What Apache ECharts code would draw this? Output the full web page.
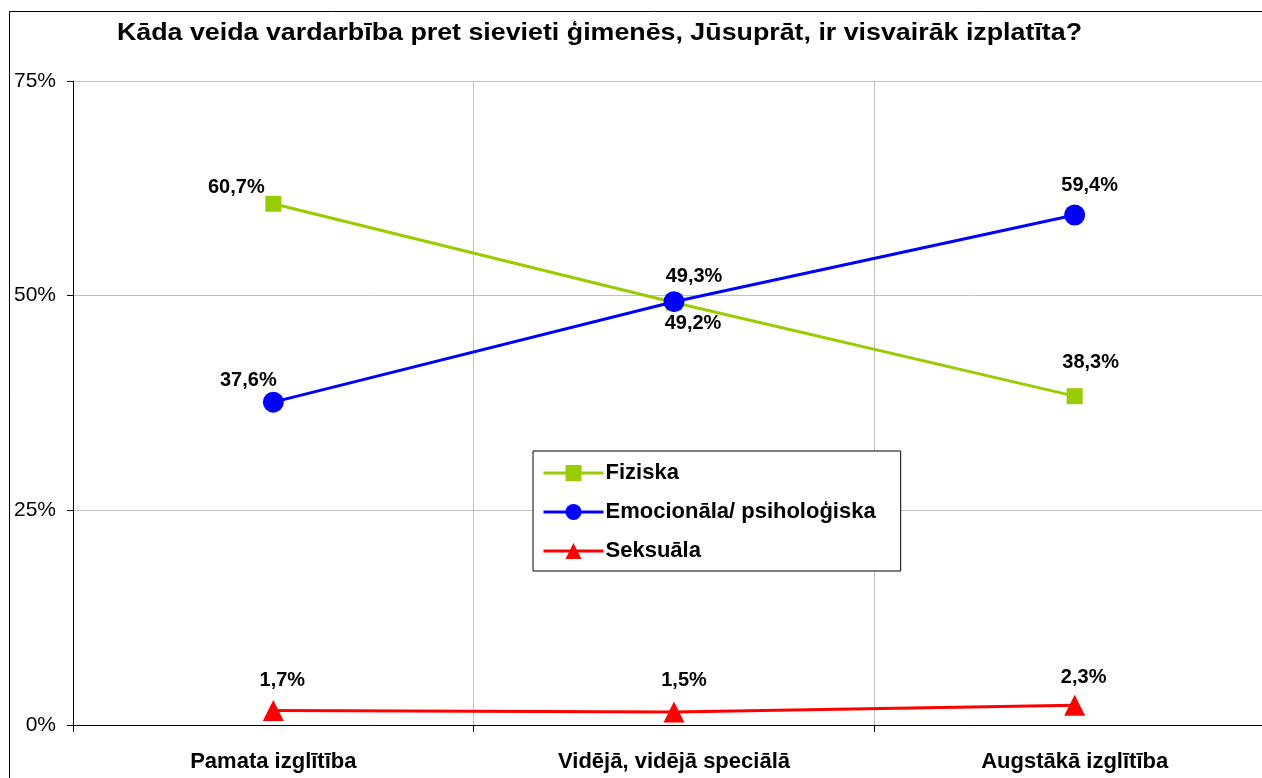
<!DOCTYPE html>
<html>
<head>
<meta charset="utf-8">
<script src="https://cdn.jsdelivr.net/npm/echarts@6/dist/echarts.min.js"></script>
<style>
  html, body { margin: 0; padding: 0; background: #fff; overflow: hidden; }
  #main { width: 1300px; height: 778px; }
</style>
</head>
<body>
<div id="main"></div>
<script>
var titleText = 'Kāda veida vardarbība pret sievieti ģimenēs, Jūsuprāt, ir visvairāk izplatīta?';
var categories = ['Pamata izglītība', 'Vidējā, vidējā speciālā', 'Augstākā izglītība'];
var fiziska = [60.7, 49.2, 38.3];
var emocionala = [37.6, 49.3, 59.4];
var seksuala = [1.7, 1.5, 2.3];
var yTicks = [0, 25, 50, 75];

// label offsets (px) from each point, as in the original
var offFiz = [[-37, -16], [19, 21], [16, -34]];
var offEmo = [[-25, -22], [20, -25], [15, -29]];
var offSek = [[9, -30], [10, -32], [9, -28]];

var FONT = '"Liberation Sans", Arial, sans-serif';

function fmt(v) { return v.toFixed(1).replace('.', ',') + '%'; }

function withLabels(values, offs) {
    return values.map(function (v, i) {
        return {
            value: v,
            label: { offset: offs[i] }
        };
    });
}

function makeSeries(name, values, offs, color, symbol, size) {
    return {
        name: name,
        type: 'line',
        data: withLabels(values, offs),
        symbol: symbol,
        symbolSize: size,
        lineStyle: { color: color, width: 3 },
        itemStyle: { color: color },
        label: {
            show: true,
            position: 'inside',
            color: '#000',
            fontFamily: FONT,
            fontWeight: 'bold',
            fontSize: 20,
            formatter: function (p) { return fmt(p.value); }
        },
        emphasis: { disabled: true },
        animation: false
    };
}

var myChart = echarts.init(document.getElementById('main'));
var option = {
    backgroundColor: '#fff',
    graphic: [{
        type: 'rect',
        shape: { x: 9.5, y: 11.5, width: 1400, height: 900 },
        style: { fill: 'none', stroke: '#000', lineWidth: 1 },
        z: -1
    }, {
        type: 'text',
        x: 117,
        y: 34,
        scaleX: 1.165,
        style: {
            text: titleText,
            fontFamily: FONT,
            fontSize: 23,
            fontWeight: 'bold',
            fill: '#000',
            verticalAlign: 'middle'
        }
    }],
    legend: {
        orient: 'vertical',
        left: 533,
        top: 451,
        padding: [11, 25, 9, 9],
        itemWidth: 60,
        itemHeight: 20,
        itemGap: 17,
        backgroundColor: '#fff',
        borderColor: '#000',
        borderWidth: 1,
        lineStyle: { width: 3 },
        textStyle: { fontFamily: FONT, fontSize: 22, fontWeight: 'bold', color: '#000', padding: [0, 0, 0, -3] },
        data: ['Fiziska', 'Emocionāla/ psiholoģiska', 'Seksuāla']
    },
    grid: { left: 73, top: 81, width: 1202, height: 644, containLabel: false },
    xAxis: {
        type: 'category',
        data: categories,
        boundaryGap: true,
        axisLine: { lineStyle: { color: '#000', width: 1 } },
        axisTick: { show: true, length: 7, lineStyle: { color: '#000' } },
        axisLabel: { fontFamily: FONT, fontSize: 22, fontWeight: 'bold', color: '#000', margin: 26 },
        splitLine: { show: true, lineStyle: { color: '#c0c0c0', width: 1 } }
    },
    yAxis: {
        type: 'value',
        min: yTicks[0],
        max: yTicks[yTicks.length - 1],
        interval: 25,
        axisLine: { show: true, lineStyle: { color: '#000', width: 1 } },
        axisTick: { show: true, length: 6, lineStyle: { color: '#000' } },
        axisLabel: { fontFamily: FONT, fontSize: 21, color: '#000', margin: 17, formatter: '{value}%' },
        splitLine: { show: true, lineStyle: { color: '#c0c0c0', width: 1 } }
    },
    series: [
        makeSeries('Fiziska', fiziska, offFiz, '#99cc00', 'rect', 16),
        makeSeries('Emocionāla/ psiholoģiska', emocionala, offEmo, '#0000ff', 'circle', 21),
        makeSeries('Seksuāla', seksuala, offSek, '#ff0000', 'triangle', 21)
    ]
};
myChart.setOption(option);
</script>
</body>
</html>
